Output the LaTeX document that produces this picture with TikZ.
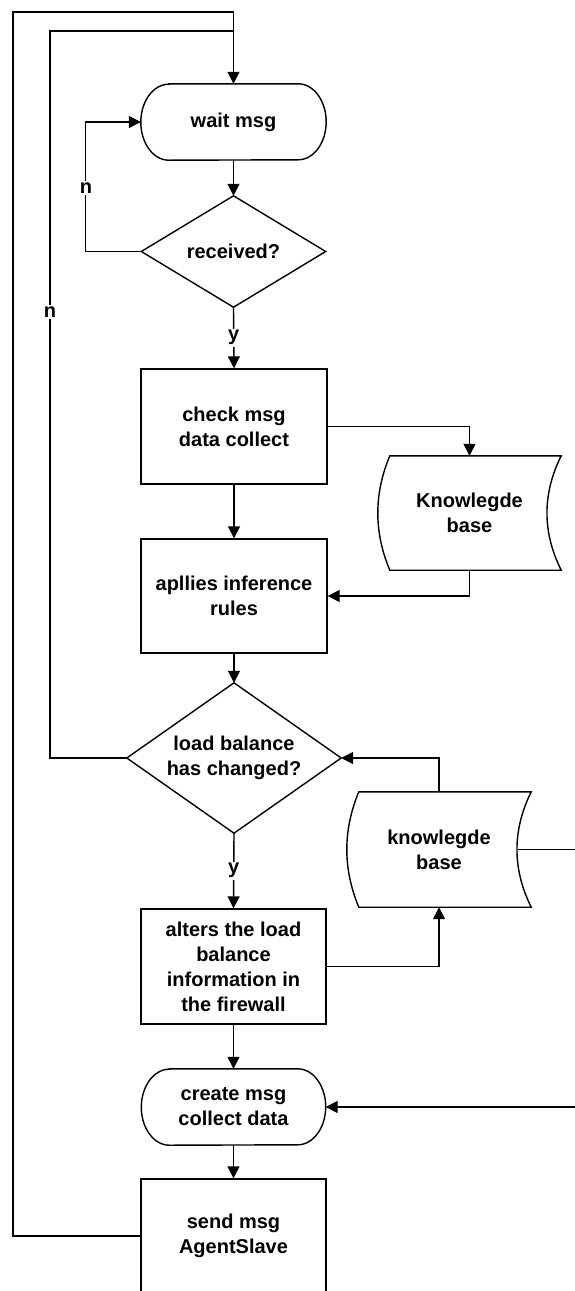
\documentclass[tikz,border=0pt]{standalone}
\usepackage{fontspec}
\setmainfont{Liberation Sans}
\usetikzlibrary{arrows.meta,calc}

\begin{document}
\begin{tikzpicture}[x=1pt,y=-1pt,
  line/.style={line width=1.4pt, line join=miter},
  arr/.style={line, -{Triangle[width=12pt,length=12pt]}},
  txt/.style={font=\fontsize{20}{25}\selectfont\bfseries, align=center},
  proc/.style={txt, draw, line width=1.4pt, rectangle, inner sep=0pt},
  hold/.style={txt, rectangle, inner sep=0pt},
  lbl/.style={font=\fontsize{20}{25}\selectfont\bfseries, fill=white, inner sep=1.5pt}]

\useasboundingbox (0,0) rectangle (575,1291);
\clip (0,0) rectangle (575,1291);

% ---- nodes ----
\node[hold, minimum width=185, minimum height=76]  (wait) at (233.5,122)  {wait msg};
\node[hold, minimum width=184, minimum height=111] (rcv)  at (233.5,251.5) {received?};
\node[proc, minimum width=186, minimum height=115] (chk)  at (234,426.5)  {check msg\\data collect};
\node[hold, minimum width=183, minimum height=114] (kb1)  at (469.5,513)  {Knowlegde\\base};
\node[proc, minimum width=186, minimum height=114] (app)  at (234,596)    {apllies inference\\rules};
\node[hold, minimum width=214, minimum height=150] (lb)   at (234,758)    {load balance\\has changed?};
\node[hold, minimum width=184, minimum height=115] (kb2)  at (439,849.5)  {knowlegde\\base};
\node[proc, minimum width=185, minimum height=115] (alt)  at (233.5,966.5) {alters the load\\balance\\information in\\the firewall};
\node[hold, minimum width=184, minimum height=76]  (crt)  at (233.5,1107) {create msg\\collect data};
\node[proc, minimum width=185, minimum height=114] (snd)  at (233.5,1236) {send msg\\AgentSlave};

% ---- terminal outlines ----
\foreach \n in {wait,crt}{
  \draw[line] ([xshift=28pt]\n.north west) -- ([xshift=-28pt]\n.north east)
    arc[start angle=90,end angle=-90,x radius=28pt,y radius=38pt]
    -- ([xshift=28pt]\n.south west)
    arc[start angle=270,end angle=90,x radius=28pt,y radius=38pt] -- cycle;
}

% ---- decision outlines ----
\foreach \n in {rcv,lb}{
  \draw[line] (\n.north) -- (\n.east) -- (\n.south) -- (\n.west) -- cycle;
}

% ---- stored data outlines ----
\foreach \n in {kb1,kb2}{
  \draw[line] ([xshift=12pt]\n.north west) -- (\n.north east)
    .. controls ($(\n.north east)!1/3!(\n.south east)+(-19,0)$)
       and ($(\n.north east)!2/3!(\n.south east)+(-19,0)$) .. (\n.south east)
    -- ([xshift=12pt]\n.south west)
    .. controls ($(\n.north west)!2/3!(\n.south west)+(-4,0)$)
       and ($(\n.north west)!1/3!(\n.south west)+(-4,0)$) .. ([xshift=12pt]\n.north west)
    -- cycle;
}

% ---- free ends of the long connectors ----
\coordinate (outer) at (13,12);
\coordinate (inner) at (50,31);
\coordinate (loopn) at (85.5,0);
\coordinate (kb2r)  at ([xshift=-13pt]kb2.east);
\coordinate (edge)  at (600,0);

% ---- connectors ----
\draw[arr] (snd.west) -| (outer) -| (wait.north);
\draw[line] (lb.west) -| (inner) -- (inner -| wait.north);
\node[lbl] (n2) at (50,312) {n};

\draw[arr] (rcv.west) -| (loopn |- wait.west) -- (wait.west);
\node[lbl] (n1) at (86,188) {n};

\draw[arr] (wait.south) -- (rcv.north);
\draw[arr] (rcv.south) -- node[lbl] (y1) {y} (chk.north);
\draw[arr] (chk.east) -| (kb1.north);
\draw[arr] (chk.south) -- (app.north);
\draw[arr] (kb1.south) |- (app.east);
\draw[arr] (app.south) -- (lb.north);
\draw[arr] (lb.south) -- node[lbl] (y2) {y} (alt.north);
\draw[arr] (kb2.north) |- (lb.east);
\draw[arr] (alt.east) -| (kb2.south);
\draw[arr] (kb2r) -- (kb2r -| edge) |- (crt.east);
\draw[arr] (alt.south) -- (crt.north);
\draw[arr] (crt.south) -- (snd.north);

\end{tikzpicture}
\end{document}
